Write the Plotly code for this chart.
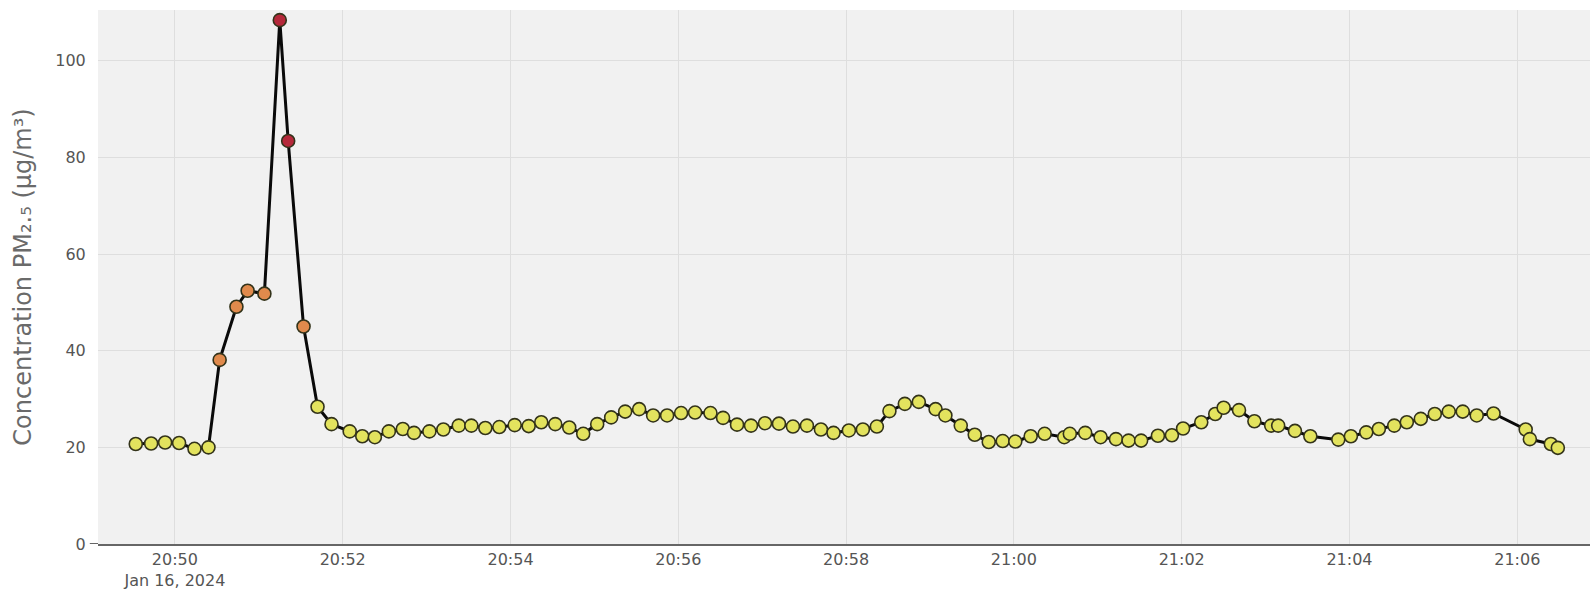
import plotly.graph_objects as go

# PM2.5 readings, Jan 16 2024
times = [
    "20:49:32", "20:49:43", "20:49:53", "20:50:03", "20:50:14", "20:50:24",
    "20:50:32", "20:50:44", "20:50:52", "20:51:04", "20:51:15", "20:51:21",
    "20:51:32", "20:51:42", "20:51:52", "20:52:05", "20:52:14", "20:52:23",
    "20:52:33", "20:52:43", "20:52:51", "20:53:02", "20:53:12", "20:53:23",
    "20:53:32", "20:53:42", "20:53:52", "20:54:03", "20:54:13", "20:54:22",
    "20:54:32", "20:54:42", "20:54:52", "20:55:02", "20:55:12", "20:55:22",
    "20:55:32", "20:55:42", "20:55:52", "20:56:02", "20:56:12", "20:56:23",
    "20:56:32", "20:56:42", "20:56:52", "20:57:02", "20:57:12", "20:57:22",
    "20:57:32", "20:57:42", "20:57:51", "20:58:02", "20:58:12", "20:58:22",
    "20:58:31", "20:58:42", "20:58:52", "20:59:04", "20:59:11", "20:59:22",
    "20:59:32", "20:59:42", "20:59:52", "21:00:01", "21:00:12", "21:00:22",
    "21:00:36", "21:00:40", "21:00:51", "21:01:02", "21:01:13", "21:01:22",
    "21:01:31", "21:01:43", "21:01:53", "21:02:01", "21:02:14", "21:02:24",
    "21:02:30", "21:02:41", "21:02:52", "21:03:04", "21:03:09", "21:03:21",
    "21:03:32", "21:03:52", "21:04:01", "21:04:12", "21:04:21", "21:04:32",
    "21:04:41", "21:04:51", "21:05:01", "21:05:11", "21:05:21", "21:05:31",
    "21:05:43", "21:06:06", "21:06:09", "21:06:24", "21:06:29",
]
pm25 = [
    20.7, 20.8, 21.0, 20.9, 19.7, 20.0,
    38.1, 49.1, 52.4, 51.8, 108.4, 83.4,
    45.0, 28.4, 24.8, 23.3, 22.3, 22.1,
    23.3, 23.8, 23.0, 23.3, 23.7, 24.5,
    24.5, 24.0, 24.2, 24.6, 24.4, 25.2,
    24.8, 24.1, 22.8, 24.8, 26.2, 27.4,
    27.9, 26.6, 26.6, 27.1, 27.2, 27.1,
    26.1, 24.7, 24.5, 25.0, 24.9, 24.3,
    24.5, 23.7, 23.0, 23.5, 23.7, 24.3,
    27.5, 29.0, 29.4, 27.9, 26.6, 24.5,
    22.6, 21.1, 21.3, 21.2, 22.3, 22.8,
    22.1, 22.8, 23.0, 22.1, 21.7, 21.4,
    21.4, 22.4, 22.5, 23.9, 25.2, 26.9,
    28.2, 27.7, 25.4, 24.5, 24.5, 23.4,
    22.3, 21.6, 22.3, 23.1, 23.8, 24.5,
    25.2, 25.9, 26.9, 27.4, 27.4, 26.6,
    27.0, 23.7, 21.7, 20.7, 19.9,
]

x = ["2024-01-16 " + t for t in times]


def level_color(v):
    if v >= 55.5:
        return "#b5283a"
    if v >= 35.5:
        return "#e08a4c"
    return "#e3e35e"


fig = go.Figure()
fig.add_trace(go.Scatter(
    x=x, y=pm25, mode="lines+markers",
    line=dict(color="#0a0a0a", width=3),
    marker=dict(size=13, color=[level_color(v) for v in pm25],
                line=dict(color="#33331a", width=1.6)),
    showlegend=False,
))

fig.update_xaxes(
    range=["2024-01-16 20:49:05", "2024-01-16 21:06:52"],
    dtick=120000,
    showgrid=True, gridcolor="#dedede", gridwidth=1,
    showline=True, linecolor="#666666", linewidth=2,
    tickfont=dict(family="DejaVu Sans", size=16, color="#555555"),
)
fig.update_yaxes(
    range=[0, 110.5], dtick=20,
    ticks="outside", ticklen=8, tickcolor="rgba(0,0,0,0)",
    showgrid=True, gridcolor="#dedede", gridwidth=1, zeroline=False,
    tickfont=dict(family="DejaVu Sans", size=16, color="#555555"),
    title=dict(text="Concentration PM₂.₅ (μg/m³)",
               font=dict(family="DejaVu Sans", size=24, color="#6a6a6a"),
               standoff=16),
)
# dark tick stub at zero only
fig.add_shape(type="line", xref="paper", yref="y", x0=-0.0055, x1=0, y0=0, y1=0,
              line=dict(color="#666666", width=2))
fig.update_layout(
    width=1590, height=597,
    margin=dict(l=98, r=0, t=10, b=53),
    paper_bgcolor="white", plot_bgcolor="#f1f1f1",
    font=dict(family="DejaVu Sans", color="#555555"),
)
fig.write_html("out.html", config={"displayModeBar": False},
               post_script="document.body.style.margin='0';"
                           "document.documentElement.style.overflow='hidden';"
                           "document.body.style.overflow='hidden';")
